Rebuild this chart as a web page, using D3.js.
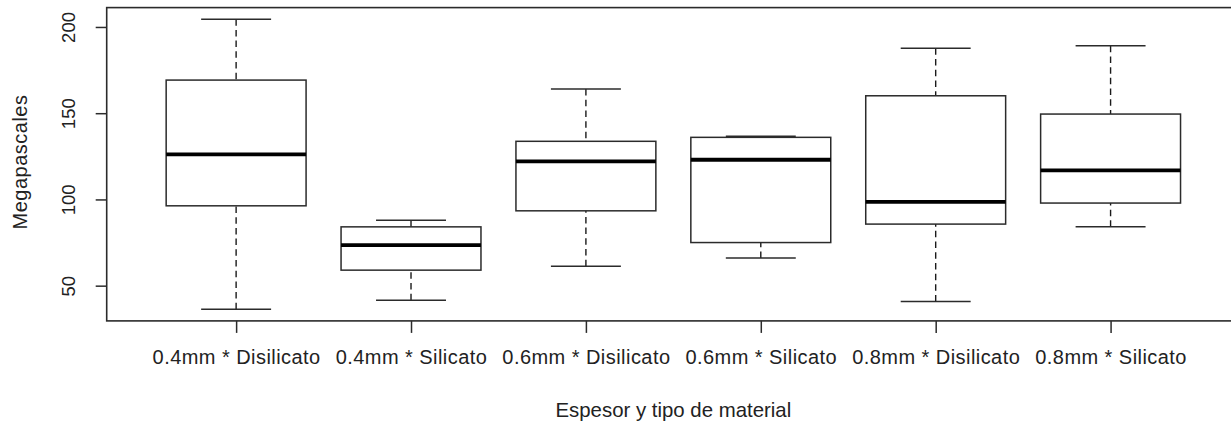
<!DOCTYPE html>
<html lang="en">
<head>
  <meta charset="UTF-8">
  <title>Megapascales por espesor y material</title>
  <style>
    body { margin: 0; background: #fff; }
    svg text { font-family: "Liberation Sans", Arial, sans-serif; fill: #222; }
  </style>
</head>
<body>
<svg id="chart" width="1231" height="424"></svg>
<script src="https://d3js.org/d3.v7.min.js"></script>
<script>
  // data
  const categories = ["0.4mm * Disilicato", "0.4mm * Silicato", "0.6mm * Disilicato",
                      "0.6mm * Silicato", "0.8mm * Disilicato", "0.8mm * Silicato"];
  const whiskerLow  = [36.3, 41.6, 61.3, 66.1, 40.8, 84.1];
  const q1          = [96.3, 59.0, 93.4, 75.0, 85.7, 97.9];
  const median      = [126.1, 73.5, 122.1, 123.0, 98.6, 116.8];
  const q3          = [169.2, 84.1, 133.7, 136.0, 160.1, 149.5];
  const whiskerHigh = [204.5, 88.0, 164.0, 136.6, 187.6, 189.1];
  const yTicks = [50, 100, 150, 200];

  const boxes = categories.map((c, i) => ({
    i: i + 1, label: c,
    lo: whiskerLow[i], q1: q1[i], med: median[i], q3: q3[i], hi: whiskerHigh[i]
  }));

  const svg = d3.select("#chart");
  const plot = { left: 106.7, right: 1240, top: 7.6, bottom: 320.9 };
  const ink = "#2b2b2b";

  // R style limits: data range padded 4% each side
  const n = categories.length;
  const xPad = n * 0.04;
  const x = d3.scaleLinear()
    .domain([0.5 - xPad, n + 0.5 + xPad])
    .range([plot.left, plot.right]);

  const yMin = d3.min(whiskerLow), yMax = d3.max(whiskerHigh);
  const yPad = (yMax - yMin) * 0.04;
  const y = d3.scaleLinear()
    .domain([yMin - yPad, yMax + yPad])
    .range([plot.bottom, plot.top]);

  const bw = 0.4, capW = 0.2;

  const g = svg.append("g");

  // whiskers (dashed)
  g.selectAll(".whisk-hi").data(boxes).enter().append("line")
    .attr("x1", d => x(d.i)).attr("x2", d => x(d.i))
    .attr("y1", d => y(d.hi)).attr("y2", d => y(d.q3))
    .attr("stroke", "#1a1a1a").attr("stroke-width", 1.4)
    .attr("stroke-dasharray", "6.5,4.2");
  g.selectAll(".whisk-lo").data(boxes).enter().append("line")
    .attr("x1", d => x(d.i)).attr("x2", d => x(d.i))
    .attr("y1", d => y(d.lo)).attr("y2", d => y(d.q1))
    .attr("stroke", "#1a1a1a").attr("stroke-width", 1.4)
    .attr("stroke-dasharray", "6.5,4.2");

  // whisker caps
  ["hi", "lo"].forEach(k => {
    g.selectAll(".cap-" + k).data(boxes).enter().append("line")
      .attr("x1", d => x(d.i - capW)).attr("x2", d => x(d.i + capW))
      .attr("y1", d => y(d[k])).attr("y2", d => y(d[k]))
      .attr("stroke", ink).attr("stroke-width", 1.5);
  });

  // boxes
  g.selectAll("rect.box").data(boxes).enter().append("rect")
    .attr("class", "box")
    .attr("x", d => x(d.i - bw))
    .attr("width", d => x(d.i + bw) - x(d.i - bw))
    .attr("y", d => y(d.q3))
    .attr("height", d => y(d.q1) - y(d.q3))
    .attr("fill", "#fff").attr("stroke", ink).attr("stroke-width", 1.5);

  // medians
  g.selectAll(".med").data(boxes).enter().append("line")
    .attr("x1", d => x(d.i - bw)).attr("x2", d => x(d.i + bw))
    .attr("y1", d => y(d.med)).attr("y2", d => y(d.med))
    .attr("stroke", "#000").attr("stroke-width", 3.8);

  // frame
  svg.append("rect")
    .attr("x", plot.left).attr("y", plot.top)
    .attr("width", plot.right - plot.left).attr("height", plot.bottom - plot.top)
    .attr("fill", "none").attr("stroke", ink).attr("stroke-width", 1.6);

  const font = "'Liberation Sans', Arial, sans-serif";

  // x axis
  const xAxis = svg.append("g")
    .attr("transform", `translate(0,${plot.bottom})`)
    .call(d3.axisBottom(x).tickValues(d3.range(1, n + 1))
      .tickFormat(d => categories[d - 1]).tickSize(12));
  xAxis.select(".domain").remove();
  xAxis.selectAll("line").attr("stroke", ink).attr("stroke-width", 1.5);
  xAxis.selectAll("text")
    .attr("y", 364 - plot.bottom).attr("dy", null)
    .attr("font-size", 20).attr("letter-spacing", 0.45).attr("fill", "#222")
    .style("font-family", font);

  // y axis, labels turned like R's default
  const yAxis = svg.append("g")
    .attr("transform", `translate(${plot.left},0)`)
    .call(d3.axisLeft(y).tickValues(yTicks).tickSize(11));
  yAxis.select(".domain").remove();
  yAxis.selectAll("line").attr("stroke", ink).attr("stroke-width", 1.5);
  yAxis.selectAll("text")
    .attr("x", null).attr("dy", null)
    .attr("transform", "translate(-32,0) rotate(-90)")
    .attr("text-anchor", "middle")
    .attr("font-size", 18.5).attr("fill", "#222")
    .style("font-family", font);

  // axis titles
  svg.append("text")
    .attr("x", (plot.left + plot.right) / 2).attr("y", 416.5)
    .attr("text-anchor", "middle").attr("font-size", 20.4)
    .text("Espesor y tipo de material");
  svg.append("text")
    .attr("transform", "translate(27,162) rotate(-90)")
    .attr("text-anchor", "middle").attr("font-size", 20).attr("letter-spacing", 0.5)
    .text("Megapascales");
</script>
</body>
</html>
